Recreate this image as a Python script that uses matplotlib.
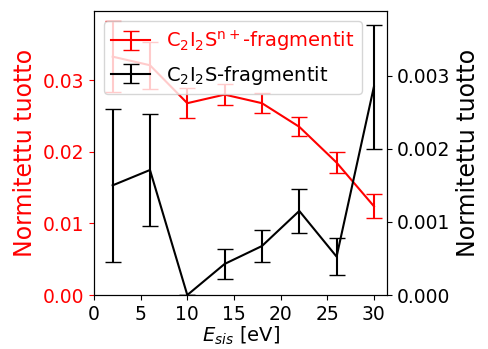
import matplotlib
matplotlib.use("Agg")
import matplotlib.pyplot as plt

# energies and yields
energies = [2, 6, 10, 14, 18, 22, 26, 30]
ion_yield = [0.0333, 0.0321, 0.0268, 0.0280, 0.0268, 0.0235, 0.0185, 0.0124]
ion_err = [0.0050, 0.0033, 0.0021, 0.0015, 0.0014, 0.0013, 0.0015, 0.0017]
neutral_yield = [0.00150, 0.00171, 0.0, 0.000425, 0.00067, 0.00115, 0.000525, 0.00285]
neutral_err = [0.00105, 0.00076, 0.0, 0.00021, 0.00022, 0.00030, 0.00025, 0.00085]

fig, ax1 = plt.subplots(figsize=(4.88, 3.49), dpi=100)
fig.subplots_adjust(left=0.1926, right=0.793, top=0.9685, bottom=0.1547)
ax2 = ax1.twinx()

h1 = ax1.errorbar(energies, ion_yield, yerr=ion_err, color="red", capsize=6,
                  label=r"C$_2$I$_2$S$^{\mathrm{n+}}$-fragmentit")
h2 = ax2.errorbar(energies, neutral_yield, yerr=neutral_err, color="black",
                  capsize=6, label=r"C$_2$I$_2$S-fragmentit")

ax1.set_xlim(left=0)
ax1.set_ylim(bottom=0)
ax2.set_ylim(bottom=0)
ax1.set_xticks([0, 5, 10, 15, 20, 25, 30])
ax1.set_yticks([0.0, 0.01, 0.02, 0.03])
ax2.set_yticks([0.0, 0.001, 0.002, 0.003])

ax1.set_xlabel(r"$E_{sis}$ [eV]", fontsize=14, labelpad=1)
ax1.set_ylabel("Normitettu tuotto", color="red", fontsize=17)
ax2.set_ylabel("Normitettu tuotto", color="black", fontsize=17)
ax1.tick_params(axis="y", colors="red", labelsize=13.5)
ax1.tick_params(axis="x", labelsize=13.5)
ax2.tick_params(axis="y", labelsize=13.5)

ax2.legend([h1, h2], [h1.get_label(), h2.get_label()], loc="upper left",
           fontsize=14, labelcolor=["red", "black"])

fig.savefig("out.png")
